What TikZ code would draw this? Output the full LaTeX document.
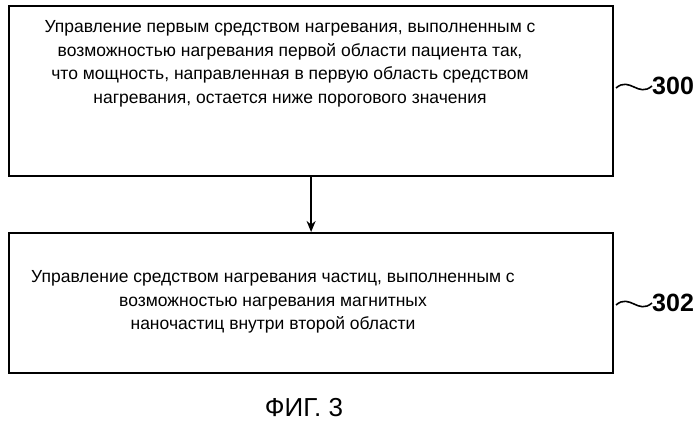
\documentclass[tikz,border=0pt]{standalone}
\usepackage{fontspec}
\setmainfont{Liberation Sans}
\usetikzlibrary{positioning, arrows.meta}

\begin{document}
\begin{tikzpicture}[x=1pt, y=-1pt, every node/.style={font=\fontsize{17.5}{23.5}\selectfont}]
  % Styles
  \tikzset{
    stepbox/.style = {draw, line width=2.2pt, minimum width=604pt, anchor=north west},
    txt/.style = {align=center, inner sep=0pt},
    link/.style = {-{Stealth[length=11pt, width=9pt]}, line width=2pt},
    refnum/.style = {font=\fontsize{25}{28}\selectfont\bfseries, anchor=west, inner sep=0pt},
    squiggle/.style = {line width=1.6pt}
  }
  \useasboundingbox (0,0) rectangle (699,424);

  % Boxes
  \node[stepbox, minimum height=170pt] (Heat) at (8,5) {};
  \node[stepbox, minimum height=140pt] (Particle) at (8,232) {};

  % Texts
  \node[txt] (HeatText) at (290,64) {Управление первым средством нагревания, выполненным с\\
    возможностью нагревания первой области пациента так,\\
    что мощность, направленная в первую область средством\\
    нагревания, остается ниже порогового значения};
  \node[txt] (ParticleText) at (273,302) {Управление средством нагревания частиц, выполненным с\\
    возможностью нагревания магнитных\\
    наночастиц внутри второй области};

  % Reference numbers
  \node[refnum] (RefHeat) at (652,86) {300};
  \node[refnum] (RefParticle) at (652,303) {302};
  \coordinate (TipHeat) at (616,88);
  \coordinate (TipParticle) at (616,305);
  \draw[squiggle] (TipHeat) .. controls (630,76) and (638,98) .. (RefHeat.west);
  \draw[squiggle] (TipParticle) .. controls (630,293) and (638,315) .. (RefParticle.west);

  % Connections
  \draw[link] (Heat) -- (Particle);

  % Caption
  \node (Caption) at (304,408) {\fontsize{26}{30}\selectfont ФИГ. 3};
\end{tikzpicture}
\end{document}
